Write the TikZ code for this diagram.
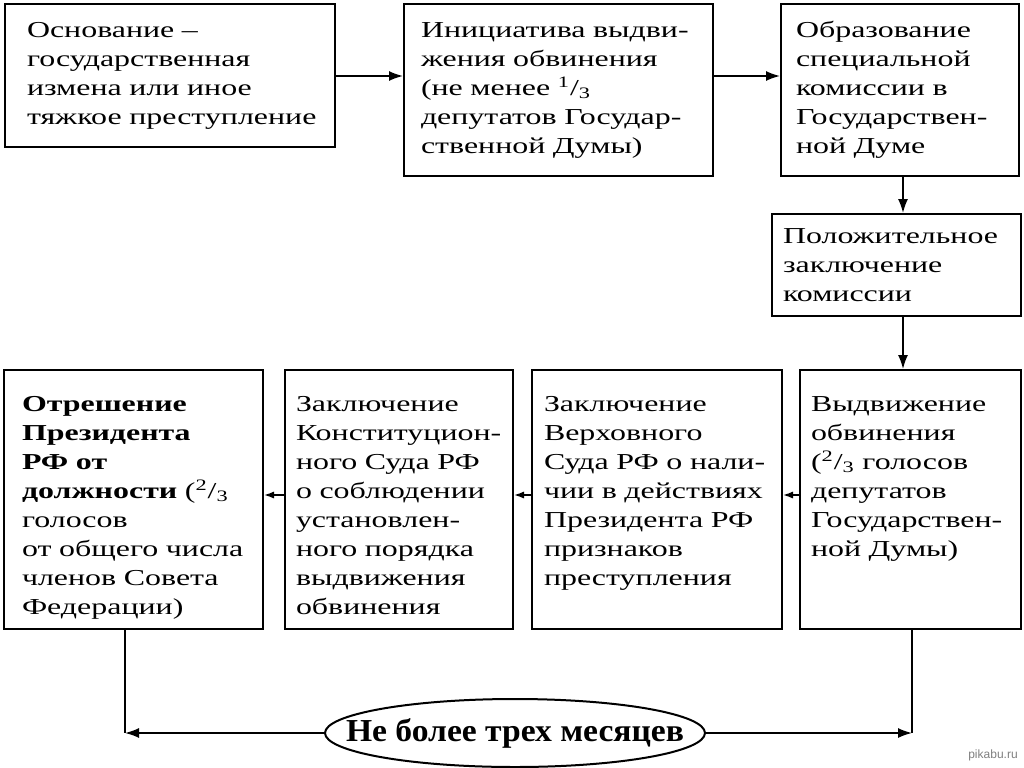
\documentclass[tikz,border=0pt]{standalone}
\usepackage{fontspec}
\setmainfont{Liberation Serif}[FakeStretch=1.4]
\newfontfamily\ovalfont{Liberation Serif}[FakeStretch=1.05]
\newfontfamily\markfont{Liberation Sans}
\usetikzlibrary{positioning, shapes.geometric, arrows.meta}
\tikzset{
  stagebox/.style={draw=black, line width=1pt, fill=white, anchor=north west, align=left,
    inner xsep=6pt, inner ysep=5pt, font=\fontsize{11.4}{14.5}\selectfont},
  lowbox/.style={stagebox, text height=15.5pt, text depth=104pt},
  textindent/.style={execute at begin node={\leftskip=#1}},
  limitoval/.style={draw=black, line width=1pt, ellipse, minimum width=190pt, minimum height=34pt,
    inner xsep=-20pt, inner ysep=0pt, font=\ovalfont\bfseries\fontsize{16}{18}\selectfont},
  flow/.style={-{Latex[length=7pt,width=5pt]}, line width=0.8pt},
  shortflow/.style={-{Latex[length=5pt,width=3.6pt]}, line width=0.8pt},
}

\begin{document}
\begin{tikzpicture}[x=0.5pt, y=-0.5pt]
  \path[use as bounding box, fill=white] (0,0) rectangle (1024,767);

  % top row
  \node[stagebox, inner xsep=5pt, text width=155pt, textindent=6pt, minimum height=71.5pt] (ground) at (4,3)
    {Основание –\\государственная\\измена или иное\\тяжкое преступление};
  \node[stagebox, inner xsep=8.5pt, text width=137.5pt, minimum height=86pt] (initiative) at (403,3)
    {Инициатива выдви-\\жения обвинения\\(не менее \textsuperscript{1}/\textsubscript{3}\\депутатов Государ-\\ственной Думы)};
  \node[stagebox, inner xsep=7.5pt, text width=104pt, minimum height=86pt] (commission) at (780,3)
    {Образование\\специальной\\комиссии в\\Государствен-\\ной Думе};
  \node[stagebox, inner xsep=5.5pt, text width=113.5pt, minimum height=51pt] (conclusion) at (771,213)
    {Положительное\\заключение\\комиссии};

  % bottom row
  \node[lowbox, inner xsep=9pt, text width=111.5pt] (removal) at (3,369)
    {{\bfseries Отрешение\\Президента\\РФ от\\должности} (\textsuperscript{2}/\textsubscript{3}\\голосов\\от общего числа\\членов Совета\\Федерации)};
  \node[lowbox, inner xsep=5.5pt, text width=103pt] (court) at (284,369)
    {Заключение\\Конституцион-\\ного Суда РФ\\о соблюдении\\установлен-\\ного порядка\\выдвижения\\обвинения};
  \node[lowbox, inner xsep=6pt, text width=113pt] (supreme) at (531,369)
    {Заключение\\Верховного\\Суда РФ о нали-\\чии в действиях\\Президента РФ\\признаков\\преступления};
  \node[lowbox, inner xsep=5.5pt, text width=99.5pt] (charge) at (799,369)
    {Выдвижение\\обвинения\\(\textsuperscript{2}/\textsubscript{3} голосов\\депутатов\\Государствен-\\ной Думы)};

  \node[limitoval] (limit) at (515,733) {Не более трех месяцев};
  \node[font=\markfont\fontsize{6}{7}\selectfont, text=gray] (mark) at (993,755) {pikabu.ru};

  \coordinate (toprow) at (0,76);
  \coordinate (rightcol) at (903,0);
  \coordinate (lowrow) at (0,495);
  \coordinate (leftend) at (125,733);
  \coordinate (rightend) at (912,733);

  \draw[flow] (ground.east |- toprow) -- (initiative.west |- toprow);
  \draw[flow] (initiative.east |- toprow) -- (commission.west |- toprow);
  \draw[flow] (commission.south -| rightcol) -- (conclusion.north -| rightcol);
  \draw[flow] (conclusion.south -| rightcol) -- (charge.north -| rightcol);
  \draw[shortflow] (charge.west |- lowrow) -- (supreme.east |- lowrow);
  \draw[shortflow] (supreme.west |- lowrow) -- (court.east |- lowrow);
  \draw[shortflow] (court.west |- lowrow) -- (removal.east |- lowrow);
  \draw[line width=0.8pt] (removal.south -| leftend) -- (leftend);
  \draw[flow] (limit.west) -- (leftend);
  \draw[line width=0.8pt] (charge.south -| rightend) -- (rightend);
  \draw[flow] (limit.east) -- (rightend);
\end{tikzpicture}
\end{document}
